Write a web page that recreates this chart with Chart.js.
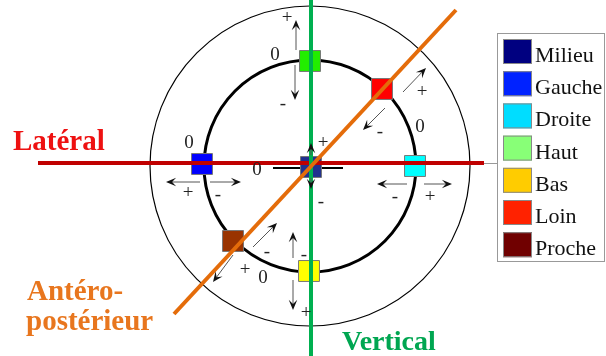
<!DOCTYPE html>
<html>
<head>
<meta charset="utf-8">
<script src="https://cdn.jsdelivr.net/npm/chart.js@4.4.1/dist/chart.umd.min.js"></script>
<style>
  html, body { margin: 0; padding: 0; background: #fff; }
  #wrap { width: 606px; height: 356px; position: relative; }
</style>
</head>
<body>
<div id="wrap"><canvas id="c"></canvas></div>
<script>
// repère : centre des cercles = (0,0), 1 unité = 1 px, y vers le haut

// capteurs (carrés)
const positions = ["Milieu", "Gauche", "Droite", "Haut", "Bas", "Loin", "Proche"]
const posX = [1, -108, 105, 0, -1, 72, -77]
const posY = [-1, 2, 0, 105, -105, 77, -75]
const squareColors = ["#20308f", "#0000ff", "#00ffff", "#22ee00", "#ffff00", "#ff0000", "#993300"]
const legendColors = ["#000080", "#0022ff", "#00ddff", "#88ff77", "#ffcc00", "#ff2200", "#700000"]

// axes de déplacement
const axisNames = ["Latéral", "Vertical", "Antéro-postérieur"]
const axisX1 = [-272, 1, 146]
const axisY1 = [3, 166, 156]
const axisX2 = [174, 1, -136]
const axisY2 = [3, -190, -148]
const axisColors = ["#c00000", "#00b050", "#e46c0a"]

// cercles (rayon en px)
const circleRadius = [160, 106]

// flèches : départ -> pointe
const arrowX1 = [-14, -15, 93, 75, -110, -100, 1, 1, 97, 114, -57, -77, -17, -17]
const arrowY1 = [116, 101, 74, 58, -16, -16, 11, -12, -18, -18, -81, -89, -92, -114]
const arrowX2 = [-14, -15, 116, 53, -144, -69, 1, 1, 67, 142, -33, -97, -17, -17]
const arrowY2 = [146, 66, 98, 36, -16, -16, 23, -23, -18, -18, -57, -116, -66, -144]

// repères 0 / + / -
const markText = ["0", "0", "0", "0", "0",
  "+", "+", "+", "+", "+", "+", "+",
  "-", "-", "-", "-", "-", "-", "-"]
const markX = [-35, 110, -121, -53, -47,
  -23, 112, -122, 13, 120, -65, -4,
  -27, 70, -92, 11, 85, -43, -6]
const markY = [111, 39, 23, -4, -112,
  148, 74, -27, 23, -31, -104, -147,
  62, 34, -29, -36, -31, -86, -89]

const datasets = []

axisNames.forEach((name, i) => {
  datasets.push({
    label: name,
    data: [{ x: axisX1[i], y: axisY1[i] }, { x: axisX2[i], y: axisY2[i] }],
    showLine: true,
    borderColor: axisColors[i],
    borderWidth: 4,
    pointRadius: 0,
    order: [3, 2, 1][i]
  })
})

positions.forEach((name, i) => {
  datasets.push({
    label: name,
    data: [{ x: posX[i], y: posY[i] }],
    pointStyle: "rect",
    pointRadius: 14.8,
    backgroundColor: squareColors[i],
    borderColor: "#777",
    borderWidth: 1,
    order: 5
  })
})

circleRadius.forEach((r, i) => {
  datasets.push({
    label: "cercle " + (i + 1),
    data: [{ x: 0, y: 0 }],
    pointStyle: "circle",
    pointRadius: r,
    backgroundColor: "rgba(0,0,0,0)",
    borderColor: "#000",
    borderWidth: i === 0 ? 1.2 : 3,
    order: 8
  })
})

// petit trait du zéro au milieu
datasets.push({
  label: "zéro",
  data: [{ x: -37, y: -2 }, { x: 33, y: -2 }],
  showLine: true,
  borderColor: "#000",
  borderWidth: 2,
  pointRadius: 0,
  order: 6
})

function arrow(ctx, x1, y1, x2, y2) {
  const a = Math.atan2(y2 - y1, x2 - x1)
  const len = 11, spread = 0.4
  ctx.beginPath()
  ctx.moveTo(x1, y1)
  ctx.lineTo(x2 - Math.cos(a) * 6, y2 - Math.sin(a) * 6)
  ctx.stroke()
  ctx.beginPath()
  ctx.moveTo(x2, y2)
  ctx.lineTo(x2 - len * Math.cos(a - spread), y2 - len * Math.sin(a - spread))
  ctx.lineTo(x2 - len * 0.55 * Math.cos(a), y2 - len * 0.55 * Math.sin(a))
  ctx.lineTo(x2 - len * Math.cos(a + spread), y2 - len * Math.sin(a + spread))
  ctx.closePath()
  ctx.fill()
}

const diagram = {
  id: "diagram",
  afterDatasetsDraw(chart) {
    const { ctx, scales: { x, y } } = chart
    ctx.save()

    // flèches
    ctx.strokeStyle = "#555"
    ctx.fillStyle = "#111"
    ctx.lineWidth = 1
    arrowX1.forEach((_, i) => {
      arrow(ctx,
        x.getPixelForValue(arrowX1[i]), y.getPixelForValue(arrowY1[i]),
        x.getPixelForValue(arrowX2[i]), y.getPixelForValue(arrowY2[i]))
    })

    // 0 + -
    ctx.fillStyle = "#222"
    ctx.font = "19px 'Liberation Serif'"
    ctx.textAlign = "center"
    ctx.textBaseline = "middle"
    markText.forEach((t, i) => {
      ctx.fillText(t, x.getPixelForValue(markX[i]), y.getPixelForValue(markY[i]))
    })

    // noms des axes
    ctx.textAlign = "left"
    ctx.textBaseline = "alphabetic"
    ctx.font = "bold 29px 'Liberation Serif'"
    ctx.fillStyle = "#ee1111"
    ctx.fillText("Latéral", x.getPixelForValue(-297), y.getPixelForValue(16))
    ctx.fillStyle = "#e8761e"
    ctx.fillText("Antéro-", x.getPixelForValue(-283), y.getPixelForValue(-134))
    ctx.fillText("postérieur", x.getPixelForValue(-284), y.getPixelForValue(-164))
    ctx.font = "bold 28px 'Liberation Serif'"
    ctx.fillStyle = "#00a651"
    ctx.fillText("Vertical", x.getPixelForValue(32), y.getPixelForValue(-184))

    // légende
    const lx = 497, ly = 33
    ctx.strokeStyle = "#999"
    ctx.lineWidth = 1
    ctx.beginPath()
    ctx.moveTo(484, 163.5)
    ctx.lineTo(lx, 163.5)
    ctx.stroke()
    ctx.fillStyle = "#fff"
    ctx.fillRect(lx, ly, 108, 228)
    ctx.strokeRect(lx + 0.5, ly + 0.5, 107, 228)
    ctx.font = "22px 'Liberation Serif'"
    positions.forEach((name, i) => {
      const top = ly + 6 + i * 32.2
      ctx.fillStyle = legendColors[i]
      ctx.fillRect(lx + 6, top, 29, 25)
      ctx.strokeStyle = "#888"
      ctx.strokeRect(lx + 6.5, top + 0.5, 28, 24)
      ctx.fillStyle = "#111"
      ctx.fillText(name, lx + 38, top + 23)
    })

    ctx.restore()
  }
}

new Chart(document.getElementById("c"), {
  type: "scatter",
  data: { datasets },
  options: {
    responsive: true,
    maintainAspectRatio: false,
    animation: false,
    events: [],
    layout: { padding: 0, autoPadding: false },
    plugins: { legend: { display: false }, tooltip: { enabled: false } },
    scales: {
      x: { type: "linear", min: -310, max: 296, display: false },
      y: { type: "linear", min: -190, max: 166, display: false }
    }
  },
  plugins: [diagram]
})
</script>
</body>
</html>
